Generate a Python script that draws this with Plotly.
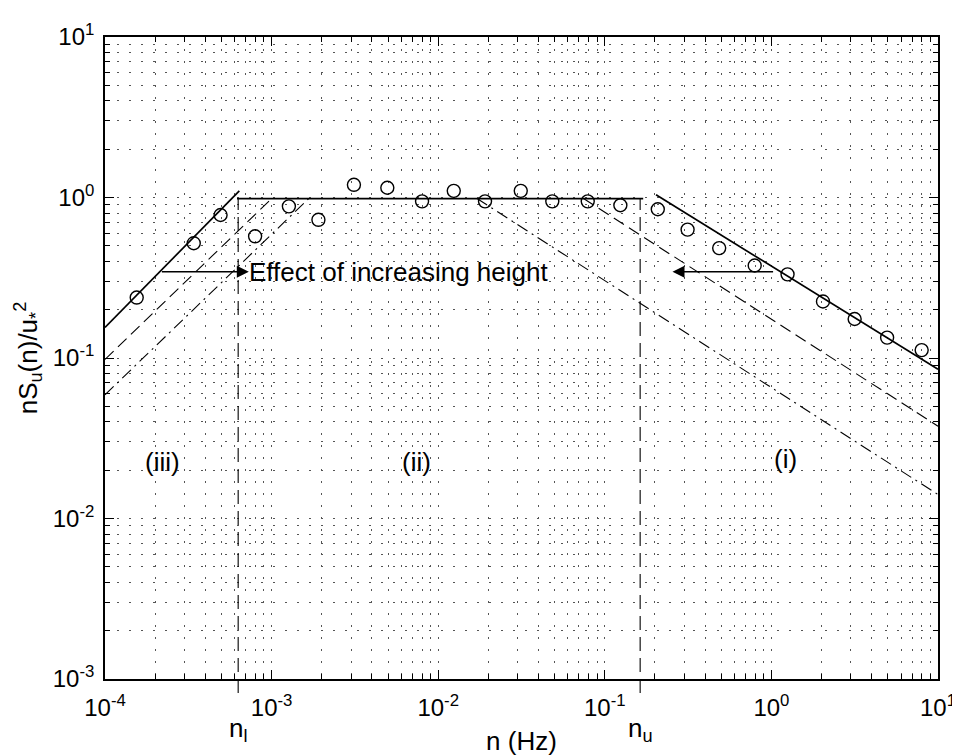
import numpy as np
import plotly.graph_objects as go

# ---------------- data ----------------
n_obs = [1.55e-4, 3.41e-4, 4.94e-4, 7.96e-4, 1.27e-3, 1.91e-3, 3.12e-3, 4.95e-3,
         8.0e-3, 1.24e-2, 1.91e-2, 3.13e-2, 4.84e-2, 7.9e-2, 0.124, 0.208,
         0.314, 0.486, 0.794, 1.25, 2.04, 3.16, 4.95, 7.98]
s_obs = [0.238, 0.519, 0.778, 0.573, 0.881, 0.726, 1.20, 1.15,
         0.946, 1.10, 0.946, 1.10, 0.946, 0.946, 0.895, 0.845,
         0.631, 0.484, 0.377, 0.332, 0.225, 0.175, 0.134, 0.112]

solid_left_n = [1e-4, 6.4e-4]
solid_left_s = [0.155, 1.10]
plateau_n = [6.2e-4, 0.170]
plateau_s = [0.985, 0.985]
solid_right_n = [0.203, 10.0]
solid_right_s = [1.04, 0.085]

dash_left_n = [1e-4, 1.0e-3]
dash_left_s = [0.098, 0.985]
dashdot_left_n = [1e-4, 1.67e-3]
dashdot_left_s = [0.059, 0.985]
dash_right_n = [0.0745, 10.0]
dash_right_s = [0.985, 0.0376]
dashdot_right_n = [0.0171, 10.0]
dashdot_right_s = [0.985, 0.0141]

n_l = 6.3e-4
n_u = 0.163

x_tickvals = [1e-4, 1e-3, 1e-2, 1e-1, 1e0, 1e1]
x_ticktext = ["10<sup>-4</sup>", "10<sup>-3</sup>", "10<sup>-2</sup>",
              "10<sup>-1</sup>", "10<sup>0</sup>", "10<sup>1</sup>"]
y_tickvals = [1e-3, 1e-2, 1e-1, 1e0, 1e1]
y_ticktext = ["10<sup>-3</sup>", "10<sup>-2</sup>", "10<sup>-1</sup>",
              "10<sup>0</sup>", "10<sup>1</sup>"]

region_labels = ["(iii)", "(ii)", "(i)"]
region_n = [2.2e-4, 7.4e-3, 1.21]
region_s = [0.0225, 0.0225, 0.0235]

arrow_left_tail_n, arrow_left_tip_n = 2.15e-4, 7.3e-4
arrow_right_tail_n, arrow_right_tip_n = 1.045, 0.255
arrow_s = 0.345
effect_text = "Effect of increasing height"
effect_n = 7.2e-4

x_range_log = [-4, 1]
y_range_log = [-3, 1]

# ---------------- figure ----------------
FONT = "Liberation Sans, Arial, Helvetica, sans-serif"
fig = go.Figure()

def add_line(xs, ys, dash="solid", width=1.7):
    fig.add_trace(go.Scatter(x=xs, y=ys, mode="lines",
                             line=dict(color="black", width=width, dash=dash),
                             showlegend=False, hoverinfo="skip"))

add_line(solid_left_n, solid_left_s)
add_line(plateau_n, plateau_s)
add_line(solid_right_n, solid_right_s)
add_line(dash_left_n, dash_left_s, dash="12px,6px", width=1.1)
add_line(dashdot_left_n, dashdot_left_s, dash="12px,5px,2px,5px", width=1.1)
add_line(dash_right_n, dash_right_s, dash="12px,6px", width=1.1)
add_line(dashdot_right_n, dashdot_right_s, dash="12px,5px,2px,5px", width=1.1)

fig.add_trace(go.Scatter(x=n_obs, y=s_obs, mode="markers",
                         marker=dict(symbol="circle-open", size=13,
                                     color="black", line=dict(width=1.4)),
                         showlegend=False, hoverinfo="skip"))

# vertical markers n_l and n_u (extend slightly below the axis)
plateau_paper = (np.log10(plateau_s[0]) - y_range_log[0]) / (y_range_log[1] - y_range_log[0])
for nv in (n_l, n_u):
    fig.add_shape(type="line", xref="x", yref="paper", x0=nv, x1=nv,
                  y0=-0.022, y1=plateau_paper,
                  line=dict(color="black", width=1.1, dash="14px,7px"))

annotations = []
for txt, nv, sv in zip(region_labels, region_n, region_s):
    annotations.append(dict(x=np.log10(nv), y=np.log10(sv), xref="x", yref="y",
                            text=txt, showarrow=False,
                            font=dict(size=26, color="black", family=FONT)))

annotations.append(dict(x=np.log10(arrow_left_tip_n), y=np.log10(arrow_s),
                        ax=np.log10(arrow_left_tail_n), ay=np.log10(arrow_s),
                        xref="x", yref="y", axref="x", ayref="y", text="",
                        showarrow=True, arrowhead=2, arrowsize=1.5,
                        arrowwidth=1.6, arrowcolor="black"))
annotations.append(dict(x=np.log10(arrow_right_tip_n), y=np.log10(arrow_s),
                        ax=np.log10(arrow_right_tail_n), ay=np.log10(arrow_s),
                        xref="x", yref="y", axref="x", ayref="y", text="",
                        showarrow=True, arrowhead=2, arrowsize=1.5,
                        arrowwidth=1.6, arrowcolor="black"))
annotations.append(dict(x=np.log10(effect_n), y=np.log10(arrow_s), xref="x", yref="y",
                        text=effect_text, showarrow=False, xanchor="left",
                        yanchor="middle", borderpad=0,
                        font=dict(size=26, color="black", family=FONT)))
annotations.append(dict(x=np.log10(n_l), y=-0.05, xref="x", yref="paper",
                        text="n<sub>l</sub>", showarrow=False, yanchor="top",
                        font=dict(size=26, color="black", family=FONT)))
annotations.append(dict(x=np.log10(n_u), y=-0.05, xref="x", yref="paper",
                        text="n<sub>u</sub>", showarrow=False, yanchor="top",
                        font=dict(size=26, color="black", family=FONT)))

minor_x = [k * 10.0 ** d for d in range(-4, 1) for k in range(2, 10)]
minor_y = [k * 10.0 ** d for d in range(-3, 1) for k in range(2, 10)]

axis_common = dict(
    type="log", showline=True, linecolor="black", linewidth=1.6, mirror="ticks",
    ticks="inside", ticklen=9, tickwidth=1.3, tickcolor="black",
    showgrid=True, gridcolor="#555", gridwidth=1, griddash="2px,10px",
    zeroline=False, tickfont=dict(size=24, color="black", family=FONT),
)

fig.update_xaxes(range=x_range_log, tickmode="array", tickvals=x_tickvals,
                 ticktext=x_ticktext, ticklabelstandoff=6,
                 minor=dict(tickmode="array", tickvals=minor_x, ticks="inside",
                            ticklen=5, tickcolor="black", showgrid=True,
                            gridcolor="#555", griddash="2px,10px", gridwidth=1),
                 title=dict(text="n (Hz)", standoff=12,
                            font=dict(size=26, color="black", family=FONT)),
                 **axis_common)
fig.update_yaxes(range=y_range_log, tickmode="array", tickvals=y_tickvals,
                 ticktext=y_ticktext, ticklabelstandoff=4,
                 minor=dict(tickmode="array", tickvals=minor_y, ticks="inside",
                            ticklen=5, tickcolor="black", showgrid=True,
                            gridcolor="#555", griddash="2px,10px", gridwidth=1),
                 title=dict(text="nS<sub>u</sub>(n)/u<sub>*</sub><sup>2</sup>",
                            standoff=8,
                            font=dict(size=26, color="black", family=FONT)),
                 **axis_common)

fig.update_layout(
    width=960, height=755,
    margin=dict(l=97, r=23, t=20, b=75),
    paper_bgcolor="white", plot_bgcolor="white",
    font=dict(family=FONT, color="black"),
    annotations=annotations,
    showlegend=False,
)

fig.write_html("out.html")
